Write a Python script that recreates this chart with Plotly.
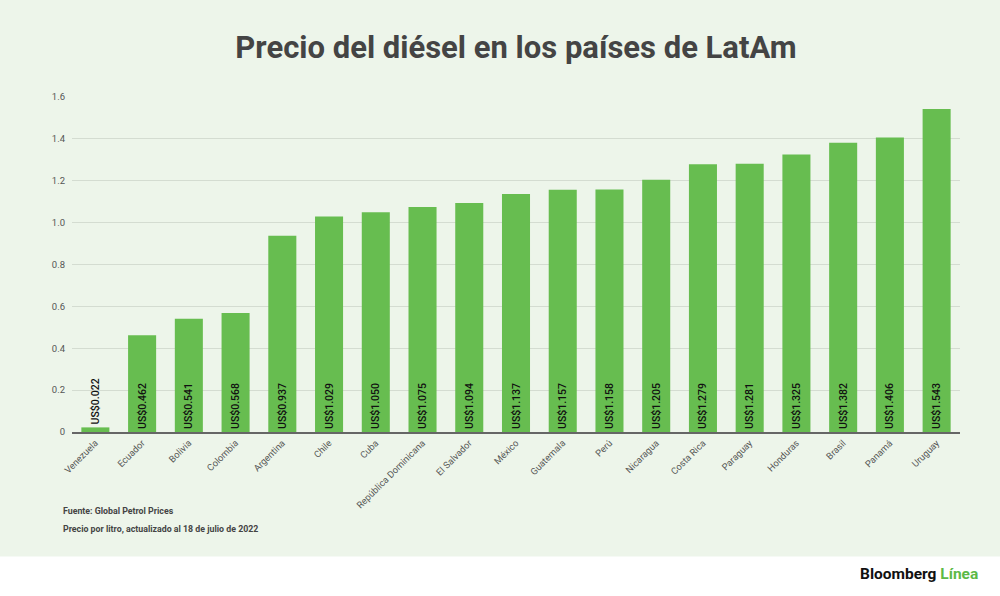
import plotly.graph_objects as go

paises = ["Venezuela", "Ecuador", "Bolivia", "Colombia", "Argentina", "Chile", "Cuba",
          "República Dominicana", "El Salvador", "México", "Guatemala", "Perú", "Nicaragua",
          "Costa Rica", "Paraguay", "Honduras", "Brasil", "Panamá", "Uruguay"]
precios = [0.022, 0.462, 0.541, 0.568, 0.937, 1.029, 1.050, 1.075, 1.094, 1.137,
           1.157, 1.158, 1.205, 1.279, 1.281, 1.325, 1.382, 1.406, 1.543]
y_ticks = [0, 0.2, 0.4, 0.6, 0.8, 1.0, 1.2, 1.4, 1.6]
y_tick_labels = ["0", "0.2", "0.4", "0.6", "0.8", "1.0", "1.2", "1.4", "1.6"]

bg = "#edf5ea"
verde = "#67bd50"

etiquetas = ["US$%.3f" % p for p in precios]
posiciones = ["outside" if p < 0.1 else "inside" for p in precios]

fig = go.Figure(go.Bar(
    x=paises, y=precios,
    marker=dict(color=verde, line=dict(width=0)),
    text=etiquetas, textposition=posiciones,
    insidetextanchor="start", textangle=-90,
    textfont=dict(family="Roboto", size=10.5, color="#111111", weight=500),
    constraintext="none", cliponaxis=False,
))

fig.update_layout(
    width=1000, height=596,
    paper_bgcolor=bg, plot_bgcolor=bg,
    margin=dict(l=72, r=40, t=97, b=164),
    bargap=0.4,
    showlegend=False,
    font=dict(family="Roboto", color="#555555"),
    title=dict(text="<b>Precio del diésel en los países de LatAm</b>",
               x=0.5, xref="paper", y=0.921, yanchor="middle",
               font=dict(family="Roboto", size=31, color="#444444")),
)
fig.update_xaxes(
    tickangle=-45, tickfont=dict(family="Roboto", size=9.3, color="#555555"),
    showline=True, linecolor="#666666", linewidth=2,
    showgrid=False, ticks="",
)
fig.update_yaxes(
    range=[0, 1.6], tickvals=y_ticks, ticktext=y_tick_labels,
    tickfont=dict(family="Roboto", size=9.5, color="#555555"),
    gridcolor="#d4dcd1", gridwidth=1, zeroline=False,
    ticklabelstandoff=6,
)

# franja blanca inferior
fig.add_shape(type="rect", xref="paper", yref="paper",
              x0=-0.1, x1=1.1, y0=-0.5, y1=-0.372,
              fillcolor="white", line=dict(width=0), layer="below")

fig.add_annotation(text="<b>Fuente: Global Petrol Prices</b>", xref="paper", yref="paper",
                   x=-0.012, y=-0.237, xanchor="left", yanchor="middle", showarrow=False,
                   font=dict(family="Roboto", size=8.8, color="#444444"))
fig.add_annotation(text="<b>Precio por litro, actualizado al 18 de julio de 2022</b>",
                   xref="paper", yref="paper",
                   x=-0.012, y=-0.29, xanchor="left", yanchor="middle", showarrow=False,
                   font=dict(family="Roboto", size=8.8, color="#444444"))
fig.add_annotation(text="<b>Bloomberg</b> <span style='color:#5cb947'><b>Línea</b></span>",
                   xref="paper", yref="paper",
                   x=1.022, y=-0.425, xanchor="right", yanchor="middle", showarrow=False,
                   font=dict(family="Roboto", size=15.5, color="#111111"))

fig.write_html("out.html", config={"displayModeBar": False},
               post_script="document.body.style.margin='0';")
